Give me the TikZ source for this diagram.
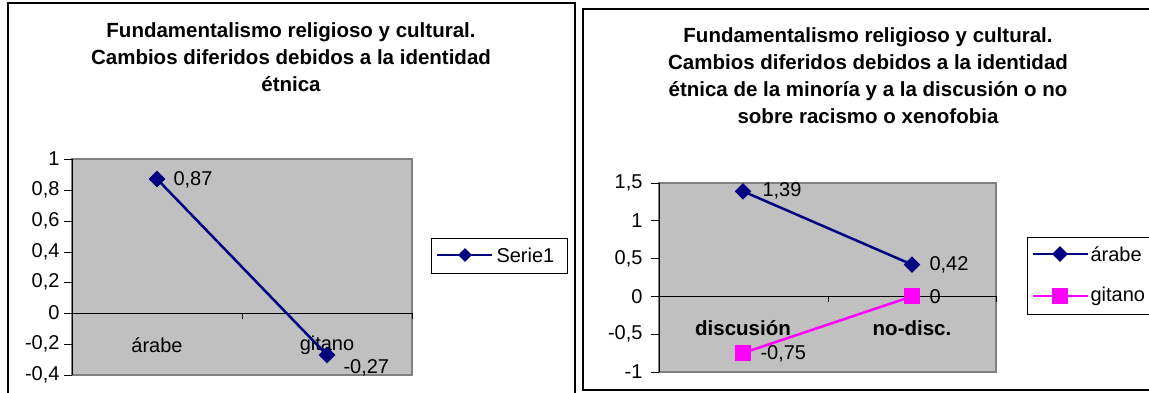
\documentclass[tikz,border=0pt]{standalone}
\usepackage{fontspec}
\setmainfont{Liberation Sans}
\usetikzlibrary{shapes.geometric, positioning}
\definecolor{serienavy}{RGB}{0,0,128}
\definecolor{seriemagenta}{RGB}{255,0,255}
\definecolor{plotgray}{RGB}{192,192,192}
\definecolor{plotedge}{RGB}{128,128,128}
\tikzstyle{frame} = [draw=black, line width=1.2pt]
\tikzstyle{plotarea} = [fill=plotgray, draw=plotedge, line width=2pt]
\tikzstyle{charttitle} = [font=\bfseries\fontsize{20.5}{27}\selectfont, align=center]
\tikzstyle{ticklabel} = [font=\fontsize{20}{24}\selectfont, anchor=east, inner sep=0pt]
\tikzstyle{datalabel} = [font=\fontsize{20}{24}\selectfont, anchor=west, inner sep=0pt]
\tikzstyle{catlabel} = [font=\fontsize{20}{24}\selectfont, inner sep=0pt]
\tikzstyle{catbold} = [font=\bfseries\fontsize{20.5}{24}\selectfont, inner sep=0pt]
\tikzstyle{arabemark} = [diamond, fill=serienavy, inner sep=0pt, minimum size=17pt]
\tikzstyle{gitanomark} = [rectangle, fill=seriemagenta, inner sep=0pt, minimum size=16pt]
\tikzstyle{navyline} = [serienavy, line width=2.5pt]
\tikzstyle{pinkline} = [seriemagenta, line width=2.5pt]
\tikzstyle{legendbox} = [draw=black, line width=1pt, fill=white, inner sep=0pt]
\begin{document}
\begin{tikzpicture}[x=1pt, y=-1pt, line width=1pt]
		\useasboundingbox (0,0) rectangle (1149,392);
		\clip (0,0) rectangle (1149,392);
		% left chart
		\draw[frame] (8,3) rectangle (575,400);
		\node (TitleA) [charttitle] at (291,57) {Fundamentalismo religioso y cultural.\\Cambios diferidos debidos a la identidad\\étnica};
		\draw[plotarea] (72,159) rectangle (412,375);
		\draw (72,159) -- (72,375);
		\foreach \y/\lab in {159/1, 190/{0,8}, 221/{0,6}, 252/{0,4}, 282/{0,2}, 313/0, 344/{-0,2}, 375/{-0,4}}{
			\draw (64,\y) -- (72,\y);
			\node (TickA\y) [ticklabel] at (60,\y) {\lab};
		}
		\draw (72,313) -- (412,313);
		\draw (242,313) -- (242,319);
		\draw (412,313) -- (412,319);
		\node (CatArabeA) [catlabel] at (157,345) {árabe};
		\node (CatGitanoA) [catlabel] at (327,345) {gitano};
		\coordinate (PtArabeA) at (157,179);
		\coordinate (PtGitanoA) at (327,355);
		\draw[navyline] (PtArabeA) -- (PtGitanoA);
		\node (MarkArabeA) [arabemark] at (PtArabeA) {};
		\node (MarkGitanoA) [arabemark] at (PtGitanoA) {};
		\node (ValArabeA) [datalabel] at (173,180) {0,87};
		\node (ValGitanoA) [datalabel] at (343,368) {-0,27};
		\node (LegendA) [legendbox, minimum width=136pt, minimum height=35pt] at (499,255.5) {};
		\coordinate (KeyStartA) at (437,255);
		\coordinate (KeyEndA) at (492,255);
		\draw[navyline] (KeyStartA) -- (KeyEndA);
		\node (KeyMarkA) [arabemark, minimum size=14pt] at (465,255) {};
		\node (KeyTextA) [datalabel, right = 4pt of KeyEndA] {Serie1};
		% right chart
		\draw[frame] (583,9) rectangle (1170,390);
		\node (TitleB) [charttitle] at (868,76) {Fundamentalismo religioso y cultural.\\Cambios diferidos debidos a la identidad\\étnica de la minoría y a la discusión o no\\sobre racismo o xenofobia};
		\draw[plotarea] (659,183) rectangle (996,372);
		\draw (659,183) -- (659,372);
		\foreach \y/\lab in {183/{1,5}, 220.8/1, 258.6/{0,5}, 296.4/0, 334.2/{-0,5}, 372/-1}{
			\draw (651,\y) -- (659,\y);
			\node (TickB\y) [ticklabel] at (643,\y) {\lab};
		}
		\draw (659,296.4) -- (996,296.4);
		\draw (828,296.4) -- (828,302.4);
		\draw (996,296.4) -- (996,302.4);
		\node (CatDisc) [catbold] at (743,328) {discusión};
		\node (CatNoDisc) [catbold] at (912,328) {no-disc.};
		\coordinate (PtArabeDisc) at (743,191.3);
		\coordinate (PtArabeNoDisc) at (912,264.6);
		\coordinate (PtGitanoDisc) at (743,353);
		\coordinate (PtGitanoNoDisc) at (912,296.4);
		\draw[navyline] (PtArabeDisc) -- (PtArabeNoDisc);
		\draw[pinkline] (PtGitanoDisc) -- (PtGitanoNoDisc);
		\node (MarkArabeDisc) [arabemark] at (PtArabeDisc) {};
		\node (MarkArabeNoDisc) [arabemark] at (PtArabeNoDisc) {};
		\node (MarkGitanoDisc) [gitanomark] at (PtGitanoDisc) {};
		\node (MarkGitanoNoDisc) [gitanomark] at (PtGitanoNoDisc) {};
		\node (ValArabeDisc) [datalabel] at (762,191) {1,39};
		\node (ValArabeNoDisc) [datalabel] at (929,265) {0,42};
		\node (ValGitanoDisc) [datalabel] at (760,354) {-0,75};
		\node (ValGitanoNoDisc) [datalabel] at (929,296.4) {0};
		\node (LegendB) [legendbox, minimum width=150pt, minimum height=77pt] at (1102,275.5) {};
		\coordinate (KeyStartB1) at (1033,254);
		\coordinate (KeyEndB1) at (1088,254);
		\coordinate (KeyStartB2) at (1033,296);
		\coordinate (KeyEndB2) at (1088,296);
		\draw[navyline] (KeyStartB1) -- (KeyEndB1);
		\draw[pinkline] (KeyStartB2) -- (KeyEndB2);
		\node (KeyMarkB1) [arabemark, minimum size=16pt] at (1060,254) {};
		\node (KeyMarkB2) [gitanomark] at (1060,296) {};
		\node (KeyTextB1) [datalabel, right = 2pt of KeyEndB1] {árabe};
		\node (KeyTextB2) [datalabel, right = 2pt of KeyEndB2] {gitano};
\end{tikzpicture}
\end{document}
